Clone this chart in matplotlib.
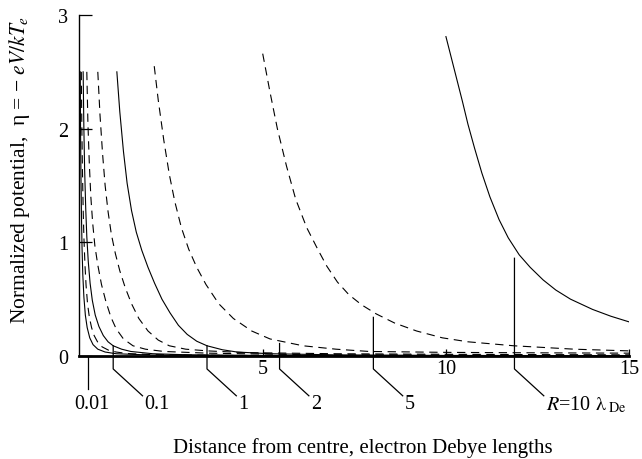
import matplotlib
matplotlib.use("Agg")
import matplotlib.pyplot as plt

plt.rcParams['font.family'] = ['Liberation Serif', 'DejaVu Serif']
plt.rcParams['mathtext.fontset'] = 'stix'
plt.rcParams['lines.scale_dashes'] = False

# potential curves: distance r and eta
r_g = [0.02, 0.03, 0.04, 0.055, 0.07, 0.09, 0.12, 0.16, 0.21, 0.28, 0.37, 0.5, 0.7, 1.0, 2.0, 5.0, 15.0]
eta_g = [2.5, 1.95, 1.6, 1.22, 0.95, 0.72, 0.52, 0.36, 0.25, 0.16, 0.1, 0.06, 0.035, 0.02, 0.008, 0.003, 0.001]

r_h = [0.05, 0.065, 0.08, 0.1, 0.12, 0.15, 0.18, 0.22, 0.27, 0.33, 0.4, 0.5, 0.62, 0.8, 1.0, 1.3, 2.0, 4.0, 15.0]
eta_h = [2.5, 2.0, 1.65, 1.3, 1.05, 0.8, 0.62, 0.46, 0.34, 0.25, 0.18, 0.12, 0.08, 0.05, 0.035, 0.022, 0.012, 0.005, 0.001]

r_i = [0.1, 0.12, 0.14, 0.17, 0.2, 0.24, 0.29, 0.35, 0.43, 0.53, 0.65, 0.78, 0.92, 1.15, 1.4, 2.0, 3.0, 5.0, 10.0, 15.0]
eta_i = [2.5, 2.0, 1.65, 1.3, 1.05, 0.83, 0.64, 0.49, 0.36, 0.26, 0.18, 0.125, 0.09, 0.06, 0.04, 0.02, 0.01, 0.005, 0.002, 0.001]

r_f = [0.2, 0.23, 0.27, 0.31, 0.36, 0.42, 0.5, 0.6, 0.72, 0.86, 1.0, 1.2, 1.46, 1.8, 2.3, 3.5, 6.0, 10.0, 15.0]
eta_f = [2.5, 2.05, 1.68, 1.4, 1.17, 0.97, 0.8, 0.63, 0.48, 0.34, 0.24, 0.15, 0.09, 0.06, 0.04, 0.025, 0.012, 0.008, 0.005]

r_e = [0.5, 0.56, 0.63, 0.7, 0.78, 0.87, 0.98, 1.1, 1.25, 1.42, 1.62, 1.87, 2.15, 2.45, 2.9, 3.5, 4.5, 7.0, 10.0, 15.0]
eta_e = [2.5, 2.12, 1.78, 1.5, 1.27, 1.07, 0.9, 0.75, 0.6, 0.46, 0.33, 0.22, 0.14, 0.09, 0.06, 0.045, 0.03, 0.02, 0.015, 0.01]

r_d = [1.02, 1.1, 1.2, 1.3, 1.42, 1.55, 1.7, 1.87, 2.05, 2.25, 2.47, 2.7, 2.94, 3.2, 3.48, 3.9, 4.3, 5.2, 7.0, 10.0, 15.0]
eta_d = [2.5, 2.15, 1.8, 1.52, 1.28, 1.09, 0.93, 0.78, 0.64, 0.5, 0.38, 0.27, 0.19, 0.13, 0.09, 0.055, 0.035, 0.02, 0.01, 0.005, 0.003]

r_c = [2.04, 2.15, 2.3, 2.45, 2.6, 2.78, 2.98, 3.2, 3.45, 3.8, 4.2, 4.7, 5.2, 6.1, 7.0, 7.9, 10.0, 12.5, 15.0]
eta_c = [2.55, 2.25, 1.9, 1.6, 1.36, 1.13, 0.94, 0.78, 0.63, 0.46, 0.33, 0.22, 0.15, 0.09, 0.06, 0.04, 0.032, 0.028, 0.025]

r_b = [5.0, 5.2, 5.4, 5.65, 5.9, 6.2, 6.5, 6.75, 7.04, 7.35, 7.7, 8.1, 8.6, 9.2, 9.9, 10.6, 11.85, 13.5, 15.0]
eta_b = [2.66, 2.32, 2.0, 1.67, 1.38, 1.13, 0.94, 0.79, 0.65, 0.54, 0.45, 0.37, 0.29, 0.22, 0.16, 0.125, 0.09, 0.06, 0.045]

r_a = [10.0, 10.15, 10.3, 10.45, 10.6, 10.78, 10.98, 11.2, 11.45, 11.7, 12.0, 12.3, 12.65, 13.0, 13.4, 14.0, 14.5, 15.0]
eta_a = [2.81, 2.62, 2.43, 2.24, 2.04, 1.83, 1.61, 1.40, 1.20, 1.04, 0.89, 0.78, 0.67, 0.58, 0.5, 0.41, 0.35, 0.3]

curves = [(r_g, eta_g, '-'), (r_h, eta_h, '--'), (r_i, eta_i, '-'),
          (r_f, eta_f, '--'), (r_e, eta_e, '--'), (r_d, eta_d, '-'),
          (r_c, eta_c, '--'), (r_b, eta_b, '--'), (r_a, eta_a, '-')]

# labelled probe radii and where their leader lines start
marker_r = [0.22, 0.92, 3.48, 5.46, 8.02, 11.87]
marker_eta = [0.0, 0.09, 0.09, 0.11, 0.34, 0.86]
marker_labels = ['0.01', '0.1', '1', '2', '5', r'$R$=10 $\mathrm{λ}_{\;\mathrm{De}}$']

fig = plt.figure(figsize=(6.42, 4.60), dpi=100)
ax = fig.add_axes([0.1238, 0.2239, 0.8562, 0.7413])

for r, eta, ls in curves:
    if ls == '--':
        ax.plot(r, eta, color='black', lw=0.8, dashes=(6, 4))
    else:
        ax.plot(r, eta, color='black', lw=0.8)

# leader lines
for i in range(len(marker_r)):
    x0 = marker_r[i]
    if i == 0:
        ax.plot([x0, x0], [marker_eta[i], -0.29], color='black', lw=0.9, clip_on=False)
        ax.text(x0 + 0.12, -0.42, marker_labels[i], ha='center', va='center', fontsize=14.5)
    else:
        ax.plot([x0, x0, x0 + 0.8], [marker_eta[i], -0.114, -0.35], color='black', lw=0.9, clip_on=False)
        ax.text(x0 + 0.85, -0.42, marker_labels[i], ha='left', va='center', fontsize=14.5)

ax.set_xlim(0, 15)
ax.set_ylim(0, 3)
ax.set_xticks([5, 10, 15])
ax.set_yticks([0, 1, 2, 3])
ax.tick_params(axis='x', direction='in', length=5, width=0.9, labelsize=14.5, pad=2)
ax.tick_params(axis='y', direction='in', length=9, width=0.9, labelsize=14.5, pad=8)
ax.spines['top'].set_visible(False)
ax.spines['right'].set_visible(False)
ax.spines['left'].set_linewidth(1.0)
ax.spines['bottom'].set_linewidth(2.0)

fig.text(0.565, 0.027, 'Distance from centre, electron Debye lengths', ha='center', va='center', fontsize=15)
fig.text(0.031, 0.63, r'Normalized potential,  η = − $eV/kT_e$', ha='center', va='center',
         rotation=90, fontsize=15.5)

fig.savefig('out.png', dpi=100)
